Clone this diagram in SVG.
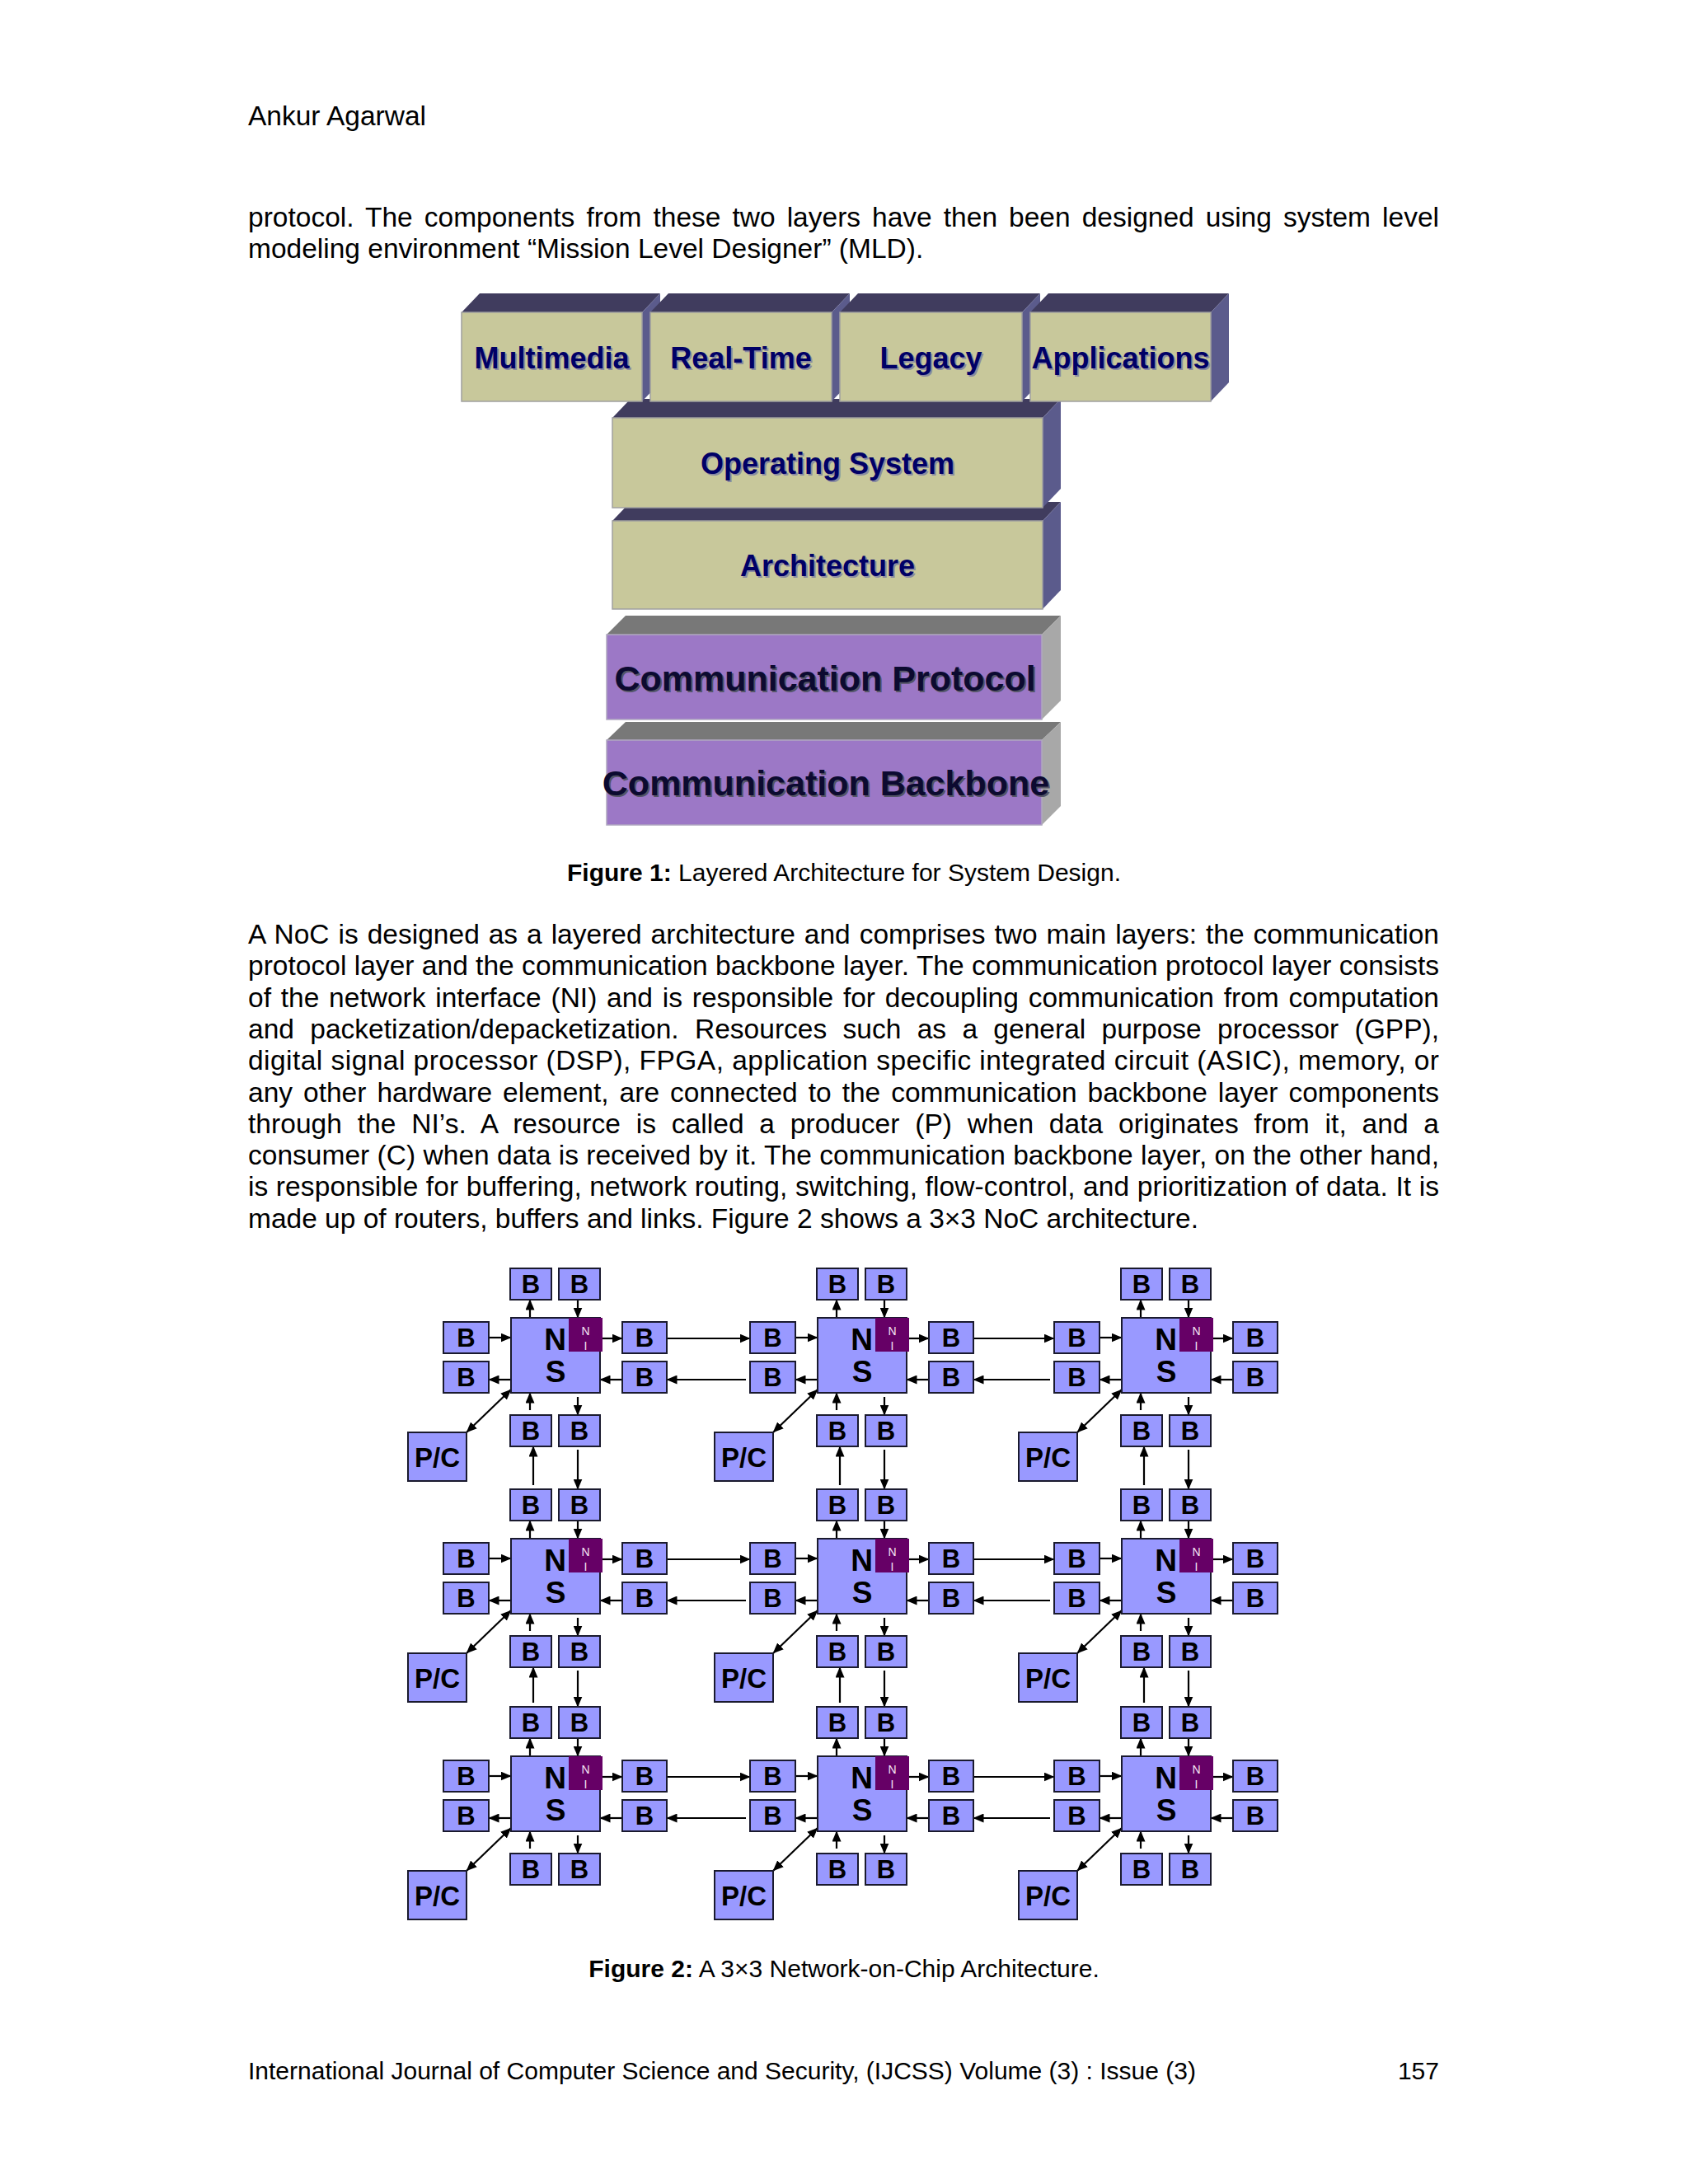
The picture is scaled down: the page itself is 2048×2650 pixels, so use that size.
<svg xmlns="http://www.w3.org/2000/svg" width="2048" height="2650" viewBox="0 0 2048 2650">
<style>
.body{font-family:"Liberation Sans",Arial,Helvetica,sans-serif;font-size:33.5px;fill:#000}
.cap{font-family:"Liberation Sans",Arial,Helvetica,sans-serif;font-size:30px;fill:#000}
.lay{font-family:"Liberation Sans",Arial,sans-serif;font-weight:bold;font-size:36px;text-anchor:middle;fill:#000066}
.layS{font-family:"Liberation Sans",Arial,sans-serif;font-weight:bold;font-size:36px;text-anchor:middle;fill:#8a8aa0}
.com{font-family:"Liberation Sans",Arial,sans-serif;font-weight:bold;font-size:43px;text-anchor:middle;fill:#0c0a30}
.comS{font-family:"Liberation Sans",Arial,sans-serif;font-weight:bold;font-size:43px;text-anchor:middle;fill:#555566}
.kf{fill:#c8c89b;stroke:#a0a0a0;stroke-width:1.5}
.kt{fill:#403c5e}
.ks{fill:#5b5b8c}
.pf{fill:#9c78c6;stroke:#b0a8c0;stroke-width:1.5}
.pt{fill:#787878}
.ps{fill:#a8a8a8}
.b{fill:#9999ff;stroke:#1a1a2e;stroke-width:2}
.ni{fill:#660066}
.bt{font-family:"Liberation Sans",Arial,sans-serif;font-weight:bold;font-size:31px;text-anchor:middle;fill:#000}
.pct{font-family:"Liberation Sans",Arial,sans-serif;font-weight:bold;font-size:33px;text-anchor:middle;fill:#000}
.nst{font-family:"Liberation Sans",Arial,sans-serif;font-weight:bold;font-size:37px;text-anchor:middle;fill:#000}
.nit{font-family:"Liberation Sans",Arial,sans-serif;font-size:14px;text-anchor:middle;fill:#f4e4f4}
.ln line{stroke:#000;stroke-width:2.2;fill:none;marker-end:url(#ah)}
</style>
<defs>
<marker id="ah" viewBox="0 0 13 11" refX="12.5" refY="5.5" markerWidth="13" markerHeight="11" markerUnits="userSpaceOnUse" orient="auto-start-reverse">
<path d="M0,0 L13,5.5 L0,11 z" fill="#000"/>
</marker>
</defs>
<rect x="0" y="0" width="2048" height="2650" fill="#ffffff"/>

<!-- page text -->
<g id="page-text">
<text class="body" x="301" y="152">Ankur Agarwal</text>
<text class="body" x="301" y="275" word-spacing="4.7" textLength="1445" lengthAdjust="spacing">protocol. The components from these two layers have then been designed using system level</text>
<text class="body" x="301" y="313">modeling environment “Mission Level Designer” (MLD).</text>
<text class="cap" x="1024" y="1069" text-anchor="middle"><tspan font-weight="bold">Figure 1:</tspan> Layered Architecture for System Design.</text>
<text class="body" x="301" y="1145" word-spacing="1.6" textLength="1445" lengthAdjust="spacing">A NoC is designed as a layered architecture and comprises two main layers: the communication</text>
<text class="body" x="301" y="1183.3" textLength="1445" lengthAdjust="spacing">protocol layer and the communication backbone layer. The communication protocol layer consists</text>
<text class="body" x="301" y="1221.6" word-spacing="2.5" textLength="1445" lengthAdjust="spacing">of the network interface (NI) and is responsible for decoupling communication from computation</text>
<text class="body" x="301" y="1259.9" word-spacing="10" textLength="1445" lengthAdjust="spacing">and packetization/depacketization. Resources such as a general purpose processor (GPP),</text>
<text class="body" x="301" y="1298.2" textLength="1445" lengthAdjust="spacing">digital signal processor (DSP), FPGA, application specific integrated circuit (ASIC), memory, or</text>
<text class="body" x="301" y="1336.5" word-spacing="3.7" textLength="1445" lengthAdjust="spacing">any other hardware element, are connected to the communication backbone layer components</text>
<text class="body" x="301" y="1374.8" word-spacing="9.4" textLength="1445" lengthAdjust="spacing">through the NI’s. A resource is called a producer (P) when data originates from it, and a</text>
<text class="body" x="301" y="1413.1" textLength="1445" lengthAdjust="spacing">consumer (C) when data is received by it. The communication backbone layer, on the other hand,</text>
<text class="body" x="301" y="1451.4" textLength="1445" lengthAdjust="spacing">is responsible for buffering, network routing, switching, flow-control, and prioritization of data. It is</text>
<text class="body" x="301" y="1489.7">made up of routers, buffers and links. Figure 2 shows a 3×3 NoC architecture.</text>
<text class="cap" x="1024" y="2399" text-anchor="middle"><tspan font-weight="bold">Figure 2:</tspan> A 3×3 Network-on-Chip Architecture.</text>
<text class="cap" x="301" y="2523">International Journal of Computer Science and Security, (IJCSS) Volume (3) : Issue (3)</text>
<text class="cap" x="1746" y="2523" text-anchor="end">157</text>
</g>

<!-- Figure 1: layered architecture -->
<g id="layer-comm-backbone">
<polygon class="pt" points="736,898 759,876 1287,876 1264,898"/>
<polygon class="ps" points="1264,898 1287,876 1287,978 1264,1001"/>
<rect class="pf" x="736" y="898" width="528" height="103"/>
<text class="comS" x="1004" y="967">Communication Backbone</text>
<text class="com" x="1002" y="965">Communication Backbone</text>
</g>
<g id="layer-comm-protocol">
<polygon class="pt" points="736,770 759,747 1287,747 1264,770"/>
<polygon class="ps" points="1264,770 1287,747 1287,850 1264,873"/>
<rect class="pf" x="736" y="770" width="528" height="103"/>
<text class="comS" x="1003" y="840">Communication Protocol</text>
<text class="com" x="1001" y="838">Communication Protocol</text>
</g>
<g id="layer-architecture">
<polygon class="kt" points="743,632 765,609 1287,609 1265,632"/>
<polygon class="ks" points="1265,632 1287,609 1287,716 1265,739"/>
<rect class="kf" x="743" y="632" width="522" height="107"/>
<text class="layS" x="1006" y="701">Architecture</text>
<text class="lay" x="1004" y="699">Architecture</text>
</g>
<g id="layer-os">
<polygon class="kt" points="743,507 765,484 1287,484 1265,507"/>
<polygon class="ks" points="1265,507 1287,484 1287,593 1265,616"/>
<rect class="kf" x="743" y="507" width="522" height="109"/>
<text class="layS" x="1006" y="577">Operating System</text>
<text class="lay" x="1004" y="575">Operating System</text>
</g>
<g id="layer-multimedia">
<polygon class="kt" points="560,379 582,356 801,356 779,379"/>
<polygon class="ks" points="779,379 801,356 801,464 779,487"/>
<rect class="kf" x="560" y="379" width="219" height="108"/>
<text class="layS" x="671.5" y="449">Multimedia</text>
<text class="lay" x="669.5" y="447">Multimedia</text>
</g>
<g id="layer-realtime">
<polygon class="kt" points="789,379 811,356 1031,356 1009,379"/>
<polygon class="ks" points="1009,379 1031,356 1031,464 1009,487"/>
<rect class="kf" x="789" y="379" width="220" height="108"/>
<text class="layS" x="901" y="449">Real-Time</text>
<text class="lay" x="899" y="447">Real-Time</text>
</g>
<g id="layer-legacy">
<polygon class="kt" points="1019,379 1041,356 1262,356 1240,379"/>
<polygon class="ks" points="1240,379 1262,356 1262,464 1240,487"/>
<rect class="kf" x="1019" y="379" width="221" height="108"/>
<text class="layS" x="1131.5" y="449">Legacy</text>
<text class="lay" x="1129.5" y="447">Legacy</text>
</g>
<g id="layer-applications">
<polygon class="kt" points="1250,379 1272,356 1491,356 1469,379"/>
<polygon class="ks" points="1469,379 1491,356 1491,464 1469,487"/>
<rect class="kf" x="1250" y="379" width="219" height="108"/>
<text class="layS" x="1361.5" y="449">Applications</text>
<text class="lay" x="1359.5" y="447">Applications</text>
</g>

<!-- Figure 2: connectors -->
<g id="connectors" class="ln">
<g transform="translate(620,1599)"><line x1="23" y1="0" x2="23" y2="-22"/><line x1="81" y1="-22" x2="81" y2="0"/><line x1="-27" y1="24" x2="0" y2="24"/><line x1="0" y1="75" x2="-27" y2="75"/><line x1="111" y1="25" x2="135" y2="25"/><line x1="135" y1="75" x2="108" y2="75"/><line x1="23" y1="112" x2="23" y2="91"/><line x1="81" y1="96" x2="81" y2="118"/><line x1="-54" y1="139" x2="0" y2="87" marker-start="url(#ah)"/></g>
<g transform="translate(992,1599)"><line x1="23" y1="0" x2="23" y2="-22"/><line x1="81" y1="-22" x2="81" y2="0"/><line x1="-27" y1="24" x2="0" y2="24"/><line x1="0" y1="75" x2="-27" y2="75"/><line x1="111" y1="25" x2="135" y2="25"/><line x1="135" y1="75" x2="108" y2="75"/><line x1="23" y1="112" x2="23" y2="91"/><line x1="81" y1="96" x2="81" y2="118"/><line x1="-54" y1="139" x2="0" y2="87" marker-start="url(#ah)"/></g>
<g transform="translate(1361,1599)"><line x1="23" y1="0" x2="23" y2="-22"/><line x1="81" y1="-22" x2="81" y2="0"/><line x1="-27" y1="24" x2="0" y2="24"/><line x1="0" y1="75" x2="-27" y2="75"/><line x1="111" y1="25" x2="135" y2="25"/><line x1="135" y1="75" x2="108" y2="75"/><line x1="23" y1="112" x2="23" y2="91"/><line x1="81" y1="96" x2="81" y2="118"/><line x1="-54" y1="139" x2="0" y2="87" marker-start="url(#ah)"/></g>
<g transform="translate(620,1867)"><line x1="23" y1="0" x2="23" y2="-22"/><line x1="81" y1="-22" x2="81" y2="0"/><line x1="-27" y1="24" x2="0" y2="24"/><line x1="0" y1="75" x2="-27" y2="75"/><line x1="111" y1="25" x2="135" y2="25"/><line x1="135" y1="75" x2="108" y2="75"/><line x1="23" y1="112" x2="23" y2="91"/><line x1="81" y1="96" x2="81" y2="118"/><line x1="-54" y1="139" x2="0" y2="87" marker-start="url(#ah)"/></g>
<g transform="translate(992,1867)"><line x1="23" y1="0" x2="23" y2="-22"/><line x1="81" y1="-22" x2="81" y2="0"/><line x1="-27" y1="24" x2="0" y2="24"/><line x1="0" y1="75" x2="-27" y2="75"/><line x1="111" y1="25" x2="135" y2="25"/><line x1="135" y1="75" x2="108" y2="75"/><line x1="23" y1="112" x2="23" y2="91"/><line x1="81" y1="96" x2="81" y2="118"/><line x1="-54" y1="139" x2="0" y2="87" marker-start="url(#ah)"/></g>
<g transform="translate(1361,1867)"><line x1="23" y1="0" x2="23" y2="-22"/><line x1="81" y1="-22" x2="81" y2="0"/><line x1="-27" y1="24" x2="0" y2="24"/><line x1="0" y1="75" x2="-27" y2="75"/><line x1="111" y1="25" x2="135" y2="25"/><line x1="135" y1="75" x2="108" y2="75"/><line x1="23" y1="112" x2="23" y2="91"/><line x1="81" y1="96" x2="81" y2="118"/><line x1="-54" y1="139" x2="0" y2="87" marker-start="url(#ah)"/></g>
<g transform="translate(620,2131)"><line x1="23" y1="0" x2="23" y2="-22"/><line x1="81" y1="-22" x2="81" y2="0"/><line x1="-27" y1="24" x2="0" y2="24"/><line x1="0" y1="75" x2="-27" y2="75"/><line x1="111" y1="25" x2="135" y2="25"/><line x1="135" y1="75" x2="108" y2="75"/><line x1="23" y1="112" x2="23" y2="91"/><line x1="81" y1="96" x2="81" y2="118"/><line x1="-54" y1="139" x2="0" y2="87" marker-start="url(#ah)"/></g>
<g transform="translate(992,2131)"><line x1="23" y1="0" x2="23" y2="-22"/><line x1="81" y1="-22" x2="81" y2="0"/><line x1="-27" y1="24" x2="0" y2="24"/><line x1="0" y1="75" x2="-27" y2="75"/><line x1="111" y1="25" x2="135" y2="25"/><line x1="135" y1="75" x2="108" y2="75"/><line x1="23" y1="112" x2="23" y2="91"/><line x1="81" y1="96" x2="81" y2="118"/><line x1="-54" y1="139" x2="0" y2="87" marker-start="url(#ah)"/></g>
<g transform="translate(1361,2131)"><line x1="23" y1="0" x2="23" y2="-22"/><line x1="81" y1="-22" x2="81" y2="0"/><line x1="-27" y1="24" x2="0" y2="24"/><line x1="0" y1="75" x2="-27" y2="75"/><line x1="111" y1="25" x2="135" y2="25"/><line x1="135" y1="75" x2="108" y2="75"/><line x1="23" y1="112" x2="23" y2="91"/><line x1="81" y1="96" x2="81" y2="118"/><line x1="-54" y1="139" x2="0" y2="87" marker-start="url(#ah)"/></g>
<!-- horizontal inter-router links -->
<line x1="809" y1="1624" x2="910" y2="1624"/><line x1="1181" y1="1624" x2="1279" y2="1624"/>
<line x1="905" y1="1674" x2="809" y2="1674"/><line x1="1274" y1="1674" x2="1181" y2="1674"/>
<line x1="809" y1="1892" x2="910" y2="1892"/><line x1="1181" y1="1892" x2="1279" y2="1892"/>
<line x1="905" y1="1942" x2="809" y2="1942"/><line x1="1274" y1="1942" x2="1181" y2="1942"/>
<line x1="809" y1="2156" x2="910" y2="2156"/><line x1="1181" y1="2156" x2="1279" y2="2156"/>
<line x1="905" y1="2206" x2="809" y2="2206"/><line x1="1274" y1="2206" x2="1181" y2="2206"/>
<!-- vertical inter-router links -->
<line x1="647" y1="1802" x2="647" y2="1755"/><line x1="647" y1="2066" x2="647" y2="2023"/>
<line x1="1019" y1="1802" x2="1019" y2="1755"/><line x1="1019" y1="2066" x2="1019" y2="2023"/>
<line x1="1388" y1="1802" x2="1388" y2="1755"/><line x1="1388" y1="2066" x2="1388" y2="2023"/>
<line x1="701" y1="1759" x2="701" y2="1807"/><line x1="701" y1="2027" x2="701" y2="2071"/>
<line x1="1073" y1="1759" x2="1073" y2="1807"/><line x1="1073" y1="2027" x2="1073" y2="2071"/>
<line x1="1442" y1="1759" x2="1442" y2="1807"/><line x1="1442" y1="2027" x2="1442" y2="2071"/>
</g>

<!-- Figure 2: routers -->
<g id="r11" transform="translate(620,1599)">
<g id="r11-ns"><rect class="b" x="0" y="0" width="108" height="91"/><text class="nst" x="53.5" y="39">N</text><text class="nst" x="54" y="78">S</text></g>
<g id="r11-ni"><rect class="ni" x="70" y="0" width="41" height="41"/><text class="nit" x="90.5" y="21">N</text><text class="nit" x="90.5" y="39">I</text></g>
<g id="r11-bt1"><rect class="b" x="-1" y="-60" width="50" height="38"/><text class="bt" x="24" y="-30">B</text></g>
<g id="r11-bt2"><rect class="b" x="58" y="-60" width="50" height="38"/><text class="bt" x="83" y="-30">B</text></g>
<g id="r11-bl1"><rect class="b" x="-82" y="5" width="55" height="38"/><text class="bt" x="-54.5" y="35">B</text></g>
<g id="r11-bl2"><rect class="b" x="-82" y="53" width="55" height="38"/><text class="bt" x="-54.5" y="83">B</text></g>
<g id="r11-br1"><rect class="b" x="135" y="5" width="54" height="38"/><text class="bt" x="162" y="35">B</text></g>
<g id="r11-br2"><rect class="b" x="135" y="53" width="54" height="38"/><text class="bt" x="162" y="83">B</text></g>
<g id="r11-bb1"><rect class="b" x="-1" y="118" width="50" height="38"/><text class="bt" x="24" y="148">B</text></g>
<g id="r11-bb2"><rect class="b" x="58" y="118" width="50" height="38"/><text class="bt" x="83" y="148">B</text></g>
<g id="r11-pc"><rect class="b" x="-125" y="139" width="71" height="59"/><text class="pct" x="-89.5" y="181">P/C</text></g>
</g>
<g id="r12" transform="translate(992,1599)">
<g id="r12-ns"><rect class="b" x="0" y="0" width="108" height="91"/><text class="nst" x="53.5" y="39">N</text><text class="nst" x="54" y="78">S</text></g>
<g id="r12-ni"><rect class="ni" x="70" y="0" width="41" height="41"/><text class="nit" x="90.5" y="21">N</text><text class="nit" x="90.5" y="39">I</text></g>
<g id="r12-bt1"><rect class="b" x="-1" y="-60" width="50" height="38"/><text class="bt" x="24" y="-30">B</text></g>
<g id="r12-bt2"><rect class="b" x="58" y="-60" width="50" height="38"/><text class="bt" x="83" y="-30">B</text></g>
<g id="r12-bl1"><rect class="b" x="-82" y="5" width="55" height="38"/><text class="bt" x="-54.5" y="35">B</text></g>
<g id="r12-bl2"><rect class="b" x="-82" y="53" width="55" height="38"/><text class="bt" x="-54.5" y="83">B</text></g>
<g id="r12-br1"><rect class="b" x="135" y="5" width="54" height="38"/><text class="bt" x="162" y="35">B</text></g>
<g id="r12-br2"><rect class="b" x="135" y="53" width="54" height="38"/><text class="bt" x="162" y="83">B</text></g>
<g id="r12-bb1"><rect class="b" x="-1" y="118" width="50" height="38"/><text class="bt" x="24" y="148">B</text></g>
<g id="r12-bb2"><rect class="b" x="58" y="118" width="50" height="38"/><text class="bt" x="83" y="148">B</text></g>
<g id="r12-pc"><rect class="b" x="-125" y="139" width="71" height="59"/><text class="pct" x="-89.5" y="181">P/C</text></g>
</g>
<g id="r13" transform="translate(1361,1599)">
<g id="r13-ns"><rect class="b" x="0" y="0" width="108" height="91"/><text class="nst" x="53.5" y="39">N</text><text class="nst" x="54" y="78">S</text></g>
<g id="r13-ni"><rect class="ni" x="70" y="0" width="41" height="41"/><text class="nit" x="90.5" y="21">N</text><text class="nit" x="90.5" y="39">I</text></g>
<g id="r13-bt1"><rect class="b" x="-1" y="-60" width="50" height="38"/><text class="bt" x="24" y="-30">B</text></g>
<g id="r13-bt2"><rect class="b" x="58" y="-60" width="50" height="38"/><text class="bt" x="83" y="-30">B</text></g>
<g id="r13-bl1"><rect class="b" x="-82" y="5" width="55" height="38"/><text class="bt" x="-54.5" y="35">B</text></g>
<g id="r13-bl2"><rect class="b" x="-82" y="53" width="55" height="38"/><text class="bt" x="-54.5" y="83">B</text></g>
<g id="r13-br1"><rect class="b" x="135" y="5" width="54" height="38"/><text class="bt" x="162" y="35">B</text></g>
<g id="r13-br2"><rect class="b" x="135" y="53" width="54" height="38"/><text class="bt" x="162" y="83">B</text></g>
<g id="r13-bb1"><rect class="b" x="-1" y="118" width="50" height="38"/><text class="bt" x="24" y="148">B</text></g>
<g id="r13-bb2"><rect class="b" x="58" y="118" width="50" height="38"/><text class="bt" x="83" y="148">B</text></g>
<g id="r13-pc"><rect class="b" x="-125" y="139" width="71" height="59"/><text class="pct" x="-89.5" y="181">P/C</text></g>
</g>
<g id="r21" transform="translate(620,1867)">
<g id="r21-ns"><rect class="b" x="0" y="0" width="108" height="91"/><text class="nst" x="53.5" y="39">N</text><text class="nst" x="54" y="78">S</text></g>
<g id="r21-ni"><rect class="ni" x="70" y="0" width="41" height="41"/><text class="nit" x="90.5" y="21">N</text><text class="nit" x="90.5" y="39">I</text></g>
<g id="r21-bt1"><rect class="b" x="-1" y="-60" width="50" height="38"/><text class="bt" x="24" y="-30">B</text></g>
<g id="r21-bt2"><rect class="b" x="58" y="-60" width="50" height="38"/><text class="bt" x="83" y="-30">B</text></g>
<g id="r21-bl1"><rect class="b" x="-82" y="5" width="55" height="38"/><text class="bt" x="-54.5" y="35">B</text></g>
<g id="r21-bl2"><rect class="b" x="-82" y="53" width="55" height="38"/><text class="bt" x="-54.5" y="83">B</text></g>
<g id="r21-br1"><rect class="b" x="135" y="5" width="54" height="38"/><text class="bt" x="162" y="35">B</text></g>
<g id="r21-br2"><rect class="b" x="135" y="53" width="54" height="38"/><text class="bt" x="162" y="83">B</text></g>
<g id="r21-bb1"><rect class="b" x="-1" y="118" width="50" height="38"/><text class="bt" x="24" y="148">B</text></g>
<g id="r21-bb2"><rect class="b" x="58" y="118" width="50" height="38"/><text class="bt" x="83" y="148">B</text></g>
<g id="r21-pc"><rect class="b" x="-125" y="139" width="71" height="59"/><text class="pct" x="-89.5" y="181">P/C</text></g>
</g>
<g id="r22" transform="translate(992,1867)">
<g id="r22-ns"><rect class="b" x="0" y="0" width="108" height="91"/><text class="nst" x="53.5" y="39">N</text><text class="nst" x="54" y="78">S</text></g>
<g id="r22-ni"><rect class="ni" x="70" y="0" width="41" height="41"/><text class="nit" x="90.5" y="21">N</text><text class="nit" x="90.5" y="39">I</text></g>
<g id="r22-bt1"><rect class="b" x="-1" y="-60" width="50" height="38"/><text class="bt" x="24" y="-30">B</text></g>
<g id="r22-bt2"><rect class="b" x="58" y="-60" width="50" height="38"/><text class="bt" x="83" y="-30">B</text></g>
<g id="r22-bl1"><rect class="b" x="-82" y="5" width="55" height="38"/><text class="bt" x="-54.5" y="35">B</text></g>
<g id="r22-bl2"><rect class="b" x="-82" y="53" width="55" height="38"/><text class="bt" x="-54.5" y="83">B</text></g>
<g id="r22-br1"><rect class="b" x="135" y="5" width="54" height="38"/><text class="bt" x="162" y="35">B</text></g>
<g id="r22-br2"><rect class="b" x="135" y="53" width="54" height="38"/><text class="bt" x="162" y="83">B</text></g>
<g id="r22-bb1"><rect class="b" x="-1" y="118" width="50" height="38"/><text class="bt" x="24" y="148">B</text></g>
<g id="r22-bb2"><rect class="b" x="58" y="118" width="50" height="38"/><text class="bt" x="83" y="148">B</text></g>
<g id="r22-pc"><rect class="b" x="-125" y="139" width="71" height="59"/><text class="pct" x="-89.5" y="181">P/C</text></g>
</g>
<g id="r23" transform="translate(1361,1867)">
<g id="r23-ns"><rect class="b" x="0" y="0" width="108" height="91"/><text class="nst" x="53.5" y="39">N</text><text class="nst" x="54" y="78">S</text></g>
<g id="r23-ni"><rect class="ni" x="70" y="0" width="41" height="41"/><text class="nit" x="90.5" y="21">N</text><text class="nit" x="90.5" y="39">I</text></g>
<g id="r23-bt1"><rect class="b" x="-1" y="-60" width="50" height="38"/><text class="bt" x="24" y="-30">B</text></g>
<g id="r23-bt2"><rect class="b" x="58" y="-60" width="50" height="38"/><text class="bt" x="83" y="-30">B</text></g>
<g id="r23-bl1"><rect class="b" x="-82" y="5" width="55" height="38"/><text class="bt" x="-54.5" y="35">B</text></g>
<g id="r23-bl2"><rect class="b" x="-82" y="53" width="55" height="38"/><text class="bt" x="-54.5" y="83">B</text></g>
<g id="r23-br1"><rect class="b" x="135" y="5" width="54" height="38"/><text class="bt" x="162" y="35">B</text></g>
<g id="r23-br2"><rect class="b" x="135" y="53" width="54" height="38"/><text class="bt" x="162" y="83">B</text></g>
<g id="r23-bb1"><rect class="b" x="-1" y="118" width="50" height="38"/><text class="bt" x="24" y="148">B</text></g>
<g id="r23-bb2"><rect class="b" x="58" y="118" width="50" height="38"/><text class="bt" x="83" y="148">B</text></g>
<g id="r23-pc"><rect class="b" x="-125" y="139" width="71" height="59"/><text class="pct" x="-89.5" y="181">P/C</text></g>
</g>
<g id="r31" transform="translate(620,2131)">
<g id="r31-ns"><rect class="b" x="0" y="0" width="108" height="91"/><text class="nst" x="53.5" y="39">N</text><text class="nst" x="54" y="78">S</text></g>
<g id="r31-ni"><rect class="ni" x="70" y="0" width="41" height="41"/><text class="nit" x="90.5" y="21">N</text><text class="nit" x="90.5" y="39">I</text></g>
<g id="r31-bt1"><rect class="b" x="-1" y="-60" width="50" height="38"/><text class="bt" x="24" y="-30">B</text></g>
<g id="r31-bt2"><rect class="b" x="58" y="-60" width="50" height="38"/><text class="bt" x="83" y="-30">B</text></g>
<g id="r31-bl1"><rect class="b" x="-82" y="5" width="55" height="38"/><text class="bt" x="-54.5" y="35">B</text></g>
<g id="r31-bl2"><rect class="b" x="-82" y="53" width="55" height="38"/><text class="bt" x="-54.5" y="83">B</text></g>
<g id="r31-br1"><rect class="b" x="135" y="5" width="54" height="38"/><text class="bt" x="162" y="35">B</text></g>
<g id="r31-br2"><rect class="b" x="135" y="53" width="54" height="38"/><text class="bt" x="162" y="83">B</text></g>
<g id="r31-bb1"><rect class="b" x="-1" y="118" width="50" height="38"/><text class="bt" x="24" y="148">B</text></g>
<g id="r31-bb2"><rect class="b" x="58" y="118" width="50" height="38"/><text class="bt" x="83" y="148">B</text></g>
<g id="r31-pc"><rect class="b" x="-125" y="139" width="71" height="59"/><text class="pct" x="-89.5" y="181">P/C</text></g>
</g>
<g id="r32" transform="translate(992,2131)">
<g id="r32-ns"><rect class="b" x="0" y="0" width="108" height="91"/><text class="nst" x="53.5" y="39">N</text><text class="nst" x="54" y="78">S</text></g>
<g id="r32-ni"><rect class="ni" x="70" y="0" width="41" height="41"/><text class="nit" x="90.5" y="21">N</text><text class="nit" x="90.5" y="39">I</text></g>
<g id="r32-bt1"><rect class="b" x="-1" y="-60" width="50" height="38"/><text class="bt" x="24" y="-30">B</text></g>
<g id="r32-bt2"><rect class="b" x="58" y="-60" width="50" height="38"/><text class="bt" x="83" y="-30">B</text></g>
<g id="r32-bl1"><rect class="b" x="-82" y="5" width="55" height="38"/><text class="bt" x="-54.5" y="35">B</text></g>
<g id="r32-bl2"><rect class="b" x="-82" y="53" width="55" height="38"/><text class="bt" x="-54.5" y="83">B</text></g>
<g id="r32-br1"><rect class="b" x="135" y="5" width="54" height="38"/><text class="bt" x="162" y="35">B</text></g>
<g id="r32-br2"><rect class="b" x="135" y="53" width="54" height="38"/><text class="bt" x="162" y="83">B</text></g>
<g id="r32-bb1"><rect class="b" x="-1" y="118" width="50" height="38"/><text class="bt" x="24" y="148">B</text></g>
<g id="r32-bb2"><rect class="b" x="58" y="118" width="50" height="38"/><text class="bt" x="83" y="148">B</text></g>
<g id="r32-pc"><rect class="b" x="-125" y="139" width="71" height="59"/><text class="pct" x="-89.5" y="181">P/C</text></g>
</g>
<g id="r33" transform="translate(1361,2131)">
<g id="r33-ns"><rect class="b" x="0" y="0" width="108" height="91"/><text class="nst" x="53.5" y="39">N</text><text class="nst" x="54" y="78">S</text></g>
<g id="r33-ni"><rect class="ni" x="70" y="0" width="41" height="41"/><text class="nit" x="90.5" y="21">N</text><text class="nit" x="90.5" y="39">I</text></g>
<g id="r33-bt1"><rect class="b" x="-1" y="-60" width="50" height="38"/><text class="bt" x="24" y="-30">B</text></g>
<g id="r33-bt2"><rect class="b" x="58" y="-60" width="50" height="38"/><text class="bt" x="83" y="-30">B</text></g>
<g id="r33-bl1"><rect class="b" x="-82" y="5" width="55" height="38"/><text class="bt" x="-54.5" y="35">B</text></g>
<g id="r33-bl2"><rect class="b" x="-82" y="53" width="55" height="38"/><text class="bt" x="-54.5" y="83">B</text></g>
<g id="r33-br1"><rect class="b" x="135" y="5" width="54" height="38"/><text class="bt" x="162" y="35">B</text></g>
<g id="r33-br2"><rect class="b" x="135" y="53" width="54" height="38"/><text class="bt" x="162" y="83">B</text></g>
<g id="r33-bb1"><rect class="b" x="-1" y="118" width="50" height="38"/><text class="bt" x="24" y="148">B</text></g>
<g id="r33-bb2"><rect class="b" x="58" y="118" width="50" height="38"/><text class="bt" x="83" y="148">B</text></g>
<g id="r33-pc"><rect class="b" x="-125" y="139" width="71" height="59"/><text class="pct" x="-89.5" y="181">P/C</text></g>
</g>
</svg>
